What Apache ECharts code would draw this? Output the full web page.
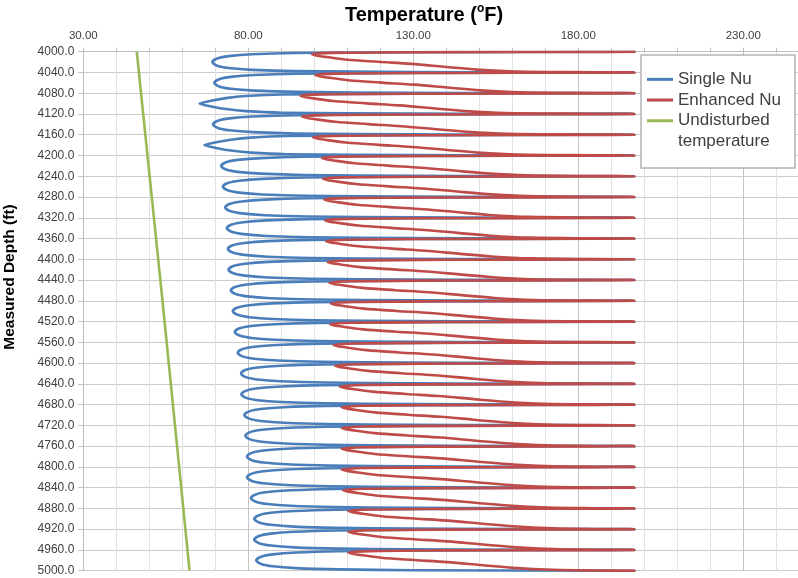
<!DOCTYPE html>
<html><head><meta charset="utf-8">
<script src="https://cdn.jsdelivr.net/npm/echarts@6/dist/echarts.min.js"></script>
<style>html,body{margin:0;padding:0;background:#fff}#c{width:798px;height:578px}</style>
</head><body><div id="c"></div>
<script>
// x-axis (temperature, degF) labelled ticks
const xTickValues = [30, 80, 130, 180, 230];
const xTickLabels = ['30.00', '80.00', '130.00', '180.00', '230.00'];
// y-axis (measured depth, ft)
const depthMin = 4000, depthMax = 5000, depthStep = 40;
const tempMin = 30, tempMax = 250, tempStep = 10;

const seriesNames = ['Single Nu', 'Enhanced Nu', 'Undisturbed temperature'];

// [temperature degF, measured depth ft]
const singleNu = [
[197,4000],[130,4001],[94.1,4002.5],[81.1,4005],[74.1,4008.5],[70.6,4013],[69.1,4020],[70.6,4027],[74.1,4031.5],[81.1,4035],[94.1,4037.5],[130,4039],
[197,4040],[130,4041],[94.7,4042.5],[81.7,4045],[74.7,4048.5],[71.2,4053],[69.7,4060],[71.2,4067],[74.7,4071.5],[81.7,4075],[94.7,4077.5],[130,4079],
[197,4080],[130,4081],[90.2,4082.5],[79.2,4085.5],[73.2,4089.5],[69.2,4094],[65.2,4100],[69.2,4106],[73.2,4110.5],[79.2,4114.5],[90.2,4117.5],[130,4119],
[197,4120],[130,4121],[94.3,4122.5],[81.3,4125],[74.3,4128.5],[70.8,4133],[69.3,4140],[70.8,4147],[74.3,4151.5],[81.3,4155],[94.3,4157.5],[130,4159],
[197,4160],[130,4161],[91.7,4162.5],[80.7,4165.5],[74.7,4169.5],[70.7,4174],[66.7,4180],[70.7,4186],[74.7,4190.5],[80.7,4194.5],[91.7,4197.5],[130,4199],
[197,4200],[130,4201],[96.8,4202.5],[83.8,4205],[76.8,4208.5],[73.3,4213],[71.8,4220],[73.3,4227],[76.8,4231.5],[83.8,4235],[96.8,4237.5],[130,4239],
[197,4240],[130,4241],[97.3,4242.5],[84.3,4245],[77.3,4248.5],[73.8,4253],[72.3,4260],[73.8,4267],[77.3,4271.5],[84.3,4275],[97.3,4277.5],[130,4279],
[197,4280],[130,4281],[98,4282.5],[85,4285],[78,4288.5],[74.5,4293],[73,4300],[74.5,4307],[78,4311.5],[85,4315],[98,4317.5],[130,4319],
[197,4320],[130,4321],[98.5,4322.5],[85.5,4325],[78.5,4328.5],[75,4333],[73.5,4340],[75,4347],[78.5,4351.5],[85.5,4355],[98.5,4357.5],[130,4359],
[197,4360],[130,4361],[98.8,4362.5],[85.8,4365],[78.8,4368.5],[75.3,4373],[73.8,4380],[75.3,4387],[78.8,4391.5],[85.8,4395],[98.8,4397.5],[130,4399],
[197,4400],[130,4401],[99,4402.5],[86,4405],[79,4408.5],[75.5,4413],[74,4420],[75.5,4427],[79,4431.5],[86,4435],[99,4437.5],[130,4439],
[197,4440],[130,4441],[99.7,4442.5],[86.7,4445],[79.7,4448.5],[76.2,4453],[74.7,4460],[76.2,4467],[79.7,4471.5],[86.7,4475],[99.7,4477.5],[130,4479],
[197,4480],[130,4481],[100.3,4482.5],[87.3,4485],[80.3,4488.5],[76.8,4493],[75.3,4500],[76.8,4507],[80.3,4511.5],[87.3,4515],[100.3,4517.5],[130,4519],
[197,4520],[130,4521],[100.9,4522.5],[87.9,4525],[80.9,4528.5],[77.4,4533],[75.9,4540],[77.4,4547],[80.9,4551.5],[87.9,4555],[100.9,4557.5],[130,4559],
[197,4560],[130,4561],[101.8,4562.5],[88.8,4565],[81.8,4568.5],[78.3,4573],[76.8,4580],[78.3,4587],[81.8,4591.5],[88.8,4595],[101.8,4597.5],[130,4599],
[197,4600],[130,4601],[102.8,4602.5],[89.8,4605],[82.8,4608.5],[79.3,4613],[77.8,4620],[79.3,4627],[82.8,4631.5],[89.8,4635],[102.8,4637.5],[130,4639],
[197,4640],[130,4641],[102.9,4642.5],[89.9,4645],[82.9,4648.5],[79.4,4653],[77.9,4660],[79.4,4667],[82.9,4671.5],[89.9,4675],[102.9,4677.5],[130,4679],
[197,4680],[130,4681],[103.8,4682.5],[90.8,4685],[83.8,4688.5],[80.3,4693],[78.8,4700],[80.3,4707],[83.8,4711.5],[90.8,4715],[103.8,4717.5],[130,4719],
[197,4720],[130,4721],[104.1,4722.5],[91.1,4725],[84.1,4728.5],[80.6,4733],[79.1,4740],[80.6,4747],[84.1,4751.5],[91.1,4755],[104.1,4757.5],[130,4759],
[197,4760],[130,4761],[104.6,4762.5],[91.6,4765],[84.6,4768.5],[81.1,4773],[79.6,4780],[81.1,4787],[84.6,4791.5],[91.6,4795],[104.6,4797.5],[130,4799],
[197,4800],[130,4801],[104.6,4802.5],[91.6,4805],[84.6,4808.5],[81.1,4813],[79.6,4820],[81.1,4827],[84.6,4831.5],[91.6,4835],[104.6,4837.5],[130,4839],
[197,4840],[130,4841],[105.8,4842.5],[92.8,4845],[85.8,4848.5],[82.3,4853],[80.8,4860],[82.3,4867],[85.8,4871.5],[92.8,4875],[105.8,4877.5],[130,4879],
[197,4880],[130,4881],[106.8,4882.5],[93.8,4885],[86.8,4888.5],[83.3,4893],[81.8,4900],[83.3,4907],[86.8,4911.5],[93.8,4915],[106.8,4917.5],[130,4919],
[197,4920],[130,4921],[106.8,4922.5],[93.8,4925],[86.8,4928.5],[83.3,4933],[81.8,4940],[83.3,4947],[86.8,4951.5],[93.8,4955],[106.8,4957.5],[130,4959],
[197,4960],[130,4961],[107.4,4962.5],[94.4,4965],[87.4,4968.5],[83.9,4973],[82.4,4980],[83.9,4987],[87.4,4991.5],[94.4,4995],[107.4,4997.5],[130,4999],
[197,5000]
];

const enhancedNu = [
[197,4000],[185,4000.4],[140,4000.9],[105.3,4002.2],[99.3,4005.5],[103.3,4010],[109.3,4015],[119.3,4019.5],[129.3,4023.5],[139.3,4029],[149.3,4034.5],[161.3,4038.3],[185,4039.6],
[197,4040],[185,4040.4],[140,4040.9],[106.3,4042.2],[100.3,4045.5],[104.3,4050],[110.3,4055],[120.3,4059.5],[130.3,4063.5],[140.3,4069],[150.3,4074.5],[162.3,4078.3],[185,4079.6],
[197,4080],[185,4080.4],[140,4080.9],[101.8,4082.2],[95.8,4085.5],[99.8,4090],[105.8,4095],[115.8,4099.5],[125.8,4103.5],[135.8,4109],[145.8,4114.5],[157.8,4118.3],[185,4119.6],
[197,4120],[185,4120.4],[140,4120.9],[102.3,4122.2],[96.3,4125.5],[100.3,4130],[106.3,4135],[116.3,4139.5],[126.3,4143.5],[136.3,4149],[146.3,4154.5],[158.3,4158.3],[185,4159.6],
[197,4160],[185,4160.4],[140,4160.9],[105.6,4162.2],[99.6,4165.5],[103.6,4170],[109.6,4175],[119.6,4179.5],[129.6,4183.5],[139.6,4189],[149.6,4194.5],[161.6,4198.3],[185,4199.6],
[197,4200],[185,4200.4],[140,4200.9],[108.3,4202.2],[102.3,4205.5],[106.3,4210],[112.3,4215],[122.3,4219.5],[132.3,4223.5],[142.3,4229],[152.3,4234.5],[164.3,4238.3],[185,4239.6],
[197,4240],[185,4240.4],[140,4240.9],[108.6,4242.2],[102.6,4245.5],[106.6,4250],[112.6,4255],[122.6,4259.5],[132.6,4263.5],[142.6,4269],[152.6,4274.5],[164.6,4278.3],[185,4279.6],
[197,4280],[185,4280.4],[140,4280.9],[109,4282.2],[103,4285.5],[107,4290],[113,4295],[123,4299.5],[133,4303.5],[143,4309],[153,4314.5],[165,4318.3],[185,4319.6],
[197,4320],[185,4320.4],[140,4320.9],[109.3,4322.2],[103.3,4325.5],[107.3,4330],[113.3,4335],[123.3,4339.5],[133.3,4343.5],[143.3,4349],[153.3,4354.5],[165.3,4358.3],[185,4359.6],
[197,4360],[185,4360.4],[140,4360.9],[109.6,4362.2],[103.6,4365.5],[107.6,4370],[113.6,4375],[123.6,4379.5],[133.6,4383.5],[143.6,4389],[153.6,4394.5],[165.6,4398.3],[185,4399.6],
[197,4400],[185,4400.4],[140,4400.9],[110,4402.2],[104,4405.5],[108,4410],[114,4415],[124,4419.5],[134,4423.5],[144,4429],[154,4434.5],[166,4438.3],[185,4439.6],
[197,4440],[185,4440.4],[140,4440.9],[110.6,4442.2],[104.6,4445.5],[108.6,4450],[114.6,4455],[124.6,4459.5],[134.6,4463.5],[144.6,4469],[154.6,4474.5],[166.6,4478.3],[185,4479.6],
[197,4480],[185,4480.4],[140,4480.9],[111,4482.2],[105,4485.5],[109,4490],[115,4495],[125,4499.5],[135,4503.5],[145,4509],[155,4514.5],[167,4518.3],[185,4519.6],
[197,4520],[185,4520.4],[140,4520.9],[110.8,4522.2],[104.8,4525.5],[108.8,4530],[114.8,4535],[124.8,4539.5],[134.8,4543.5],[144.8,4549],[154.8,4554.5],[166.8,4558.3],[185,4559.6],
[197,4560],[185,4560.4],[140,4560.9],[111.8,4562.2],[105.8,4565.5],[109.8,4570],[115.8,4575],[125.8,4579.5],[135.8,4583.5],[145.8,4589],[155.8,4594.5],[167.8,4598.3],[185,4599.6],
[197,4600],[185,4600.4],[140,4600.9],[112.3,4602.2],[106.3,4605.5],[110.3,4610],[116.3,4615],[126.3,4619.5],[136.3,4623.5],[146.3,4629],[156.3,4634.5],[168.3,4638.3],[185,4639.6],
[197,4640],[185,4640.4],[140,4640.9],[113.7,4642.2],[107.7,4645.5],[111.7,4650],[117.7,4655],[127.7,4659.5],[137.7,4663.5],[147.7,4669],[157.7,4674.5],[169.7,4678.3],[185,4679.6],
[197,4680],[185,4680.4],[140,4680.9],[114.3,4682.2],[108.3,4685.5],[112.3,4690],[118.3,4695],[128.3,4699.5],[138.3,4703.5],[148.3,4709],[158.3,4714.5],[170.3,4718.3],[185,4719.6],
[197,4720],[185,4720.4],[140,4720.9],[114.3,4722.2],[108.3,4725.5],[112.3,4730],[118.3,4735],[128.3,4739.5],[138.3,4743.5],[148.3,4749],[158.3,4754.5],[170.3,4758.3],[185,4759.6],
[197,4760],[185,4760.4],[140,4760.9],[114.3,4762.2],[108.3,4765.5],[112.3,4770],[118.3,4775],[128.3,4779.5],[138.3,4783.5],[148.3,4789],[158.3,4794.5],[170.3,4798.3],[185,4799.6],
[197,4800],[185,4800.4],[140,4800.9],[114.3,4802.2],[108.3,4805.5],[112.3,4810],[118.3,4815],[128.3,4819.5],[138.3,4823.5],[148.3,4829],[158.3,4834.5],[170.3,4838.3],[185,4839.6],
[197,4840],[185,4840.4],[140,4840.9],[114.7,4842.2],[108.7,4845.5],[112.7,4850],[118.7,4855],[128.7,4859.5],[138.7,4863.5],[148.7,4869],[158.7,4874.5],[170.7,4878.3],[185,4879.6],
[197,4880],[185,4880.4],[140,4880.9],[116.3,4882.2],[110.3,4885.5],[114.3,4890],[120.3,4895],[130.3,4899.5],[140.3,4903.5],[150.3,4909],[160.3,4914.5],[172.3,4918.3],[185,4919.6],
[197,4920],[185,4920.4],[140,4920.9],[116.3,4922.2],[110.3,4925.5],[114.3,4930],[120.3,4935],[130.3,4939.5],[140.3,4943.5],[150.3,4949],[160.3,4954.5],[172.3,4958.3],[185,4959.6],
[197,4960],[185,4960.4],[140,4960.9],[116.3,4962.2],[110.3,4965.5],[114.3,4970],[120.3,4975],[130.3,4979.5],[140.3,4983.5],[150.3,4989],[160.3,4994.5],[172.3,4998.3],[185,4999.6],
[197,5000]
];

const undisturbed = [[46.2,4000],[54.0,4480],[62.2,5000]];

const FONT = '"Liberation Sans", Arial, sans-serif';
const chart = echarts.init(document.getElementById('c'), null, {renderer: 'canvas'});

const option = {
  animation: false,
  backgroundColor: '#ffffff',
  title: {
    left: 345, top: 3, padding: 0,
    text: '{a|Temperature (}{b|o}{a|F)}',
    textStyle: {
      rich: {
        a: {fontFamily: FONT, fontWeight: 'bold', fontSize: 20, color: '#000', lineHeight: 24},
        b: {fontFamily: FONT, fontWeight: 'bold', fontSize: 12, color: '#000', lineHeight: 12, verticalAlign: 'top'}
      }
    }
  },
  grid: {left: 83.3, top: 51.7, width: 726, height: 519, containLabel: false, outerBoundsMode: 'none'},
  xAxis: {
    type: 'value', position: 'top',
    min: tempMin, max: tempMax, interval: tempStep,
    axisLine: {show: true, lineStyle: {color: '#bfbfbf', width: 1}},
    axisTick: {show: true, length: 4, lineStyle: {color: '#bfbfbf'}},
    axisLabel: {
      margin: 10, fontSize: 11.5, fontFamily: FONT, color: '#404040',
      formatter: function (v) {
        const i = xTickValues.indexOf(v);
        return i >= 0 ? xTickLabels[i] : '';
      }
    },
    splitLine: {show: true, lineStyle: {width: 1, color: ['#c4c4c4', '#e2e2e2', '#e2e2e2', '#e2e2e2', '#e2e2e2']}}
  },
  yAxis: {
    type: 'value', inverse: true,
    min: depthMin, max: depthMax, interval: depthStep,
    axisLine: {show: true, lineStyle: {color: '#bfbfbf', width: 1}},
    axisTick: {show: true, length: 5, lineStyle: {color: '#bfbfbf'}},
    axisLabel: {
      margin: 9, fontSize: 12, fontFamily: FONT, color: '#404040',
      formatter: function (v) { return v.toFixed(1); }
    },
    splitLine: {show: true, lineStyle: {width: 1, color: '#cccccc'}}
  },
  legend: {
    left: 641, top: 55, orient: 'vertical',
    padding: [14, 14, 37, 6],
    itemGap: 0, itemWidth: 26, itemHeight: 3, icon: 'rect',
    backgroundColor: '#ffffff', borderColor: '#b3b3b3', borderWidth: 1.5,
    data: seriesNames,
    formatter: function (name) { return name === 'Undisturbed temperature' ? 'Undisturbed' : name; },
    textStyle: {fontFamily: FONT, fontSize: 17, color: '#404040', lineHeight: 20.7}
  },
  graphic: [
    {type: 'text', x: 678, y: 141, z: 100,
     style: {text: 'temperature', font: '17px ' + FONT, fill: '#404040', verticalAlign: 'middle', textAlign: 'left'}},
    {type: 'text', x: 9.5, y: 277, rotation: Math.PI / 2,
     style: {text: 'Measured Depth (ft)', font: 'bold 15.5px ' + FONT, fill: '#000', verticalAlign: 'middle', textAlign: 'center'}}
  ],
  series: [
    {name: seriesNames[0], type: 'line', data: singleNu, showSymbol: false, symbol: 'none', smooth: 0.3,
     color: '#4a7ebb', lineStyle: {width: 2.6, color: '#4a7ebb', cap: 'round', join: 'round'}, z: 2},
    {name: seriesNames[1], type: 'line', data: enhancedNu, showSymbol: false, symbol: 'none', smooth: 0.35,
     color: '#be4b48', lineStyle: {width: 2.6, color: '#be4b48', cap: 'round', join: 'round'}, z: 3},
    {name: seriesNames[2], type: 'line', data: undisturbed, showSymbol: false, symbol: 'none',
     color: '#98b954', lineStyle: {width: 2.6, color: '#98b954'}, z: 4}
  ]
};
chart.setOption(option);
</script>
</body></html>
